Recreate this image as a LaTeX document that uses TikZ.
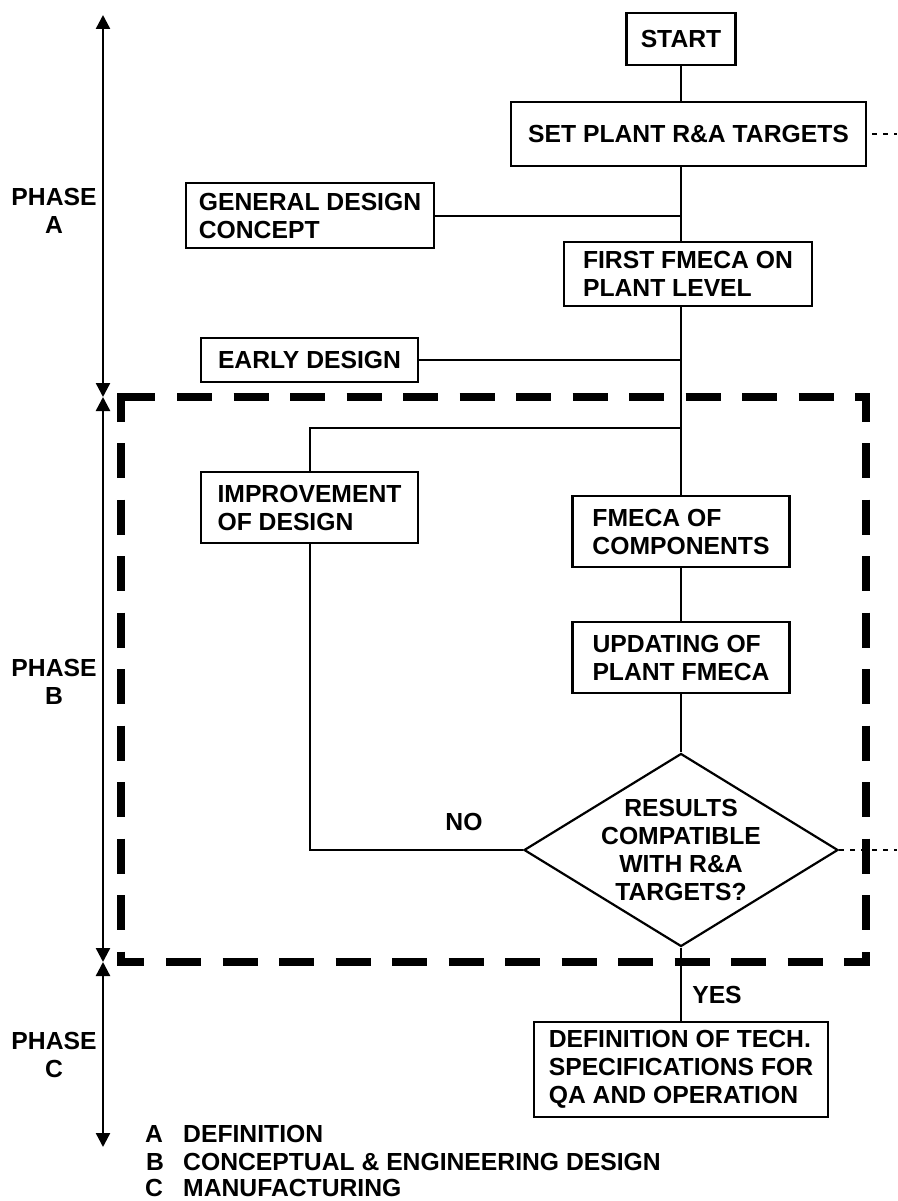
\documentclass[tikz,border=0pt]{standalone}
\usepackage{fontspec}
\setmainfont{Liberation Sans}
\usetikzlibrary{shapes.geometric,arrows.meta}
\begin{document}
\begin{tikzpicture}[x=1pt,y=-1pt,
  every node/.style={font=\fontsize{24.7}{28}\selectfont\bfseries, inner sep=0pt},
  box/.style={draw, line width=2.6pt, align=left},
  link/.style={line width=2pt},
  phasearrow/.style={line width=2.4pt, {Triangle[width=14pt,length=14pt]}-{Triangle[width=14pt,length=14pt]}},
  frame/.style={line width=7.3pt, line join=miter},
  framedash/.style={frame, dash pattern=on 35pt off 21.5pt},
  hint/.style={line width=1.6pt, dash pattern=on 5pt off 6pt},
]
\useasboundingbox (0,0) rectangle (897,1201);
\fill[white] (0,0) rectangle (897,1201);

% thick dashed frame around phase B: solid corners, dashed sides
\draw[frame] (121,422) -- (121,397) -- (155,397);
\draw[frame] (855,397) -- (866,397) -- (866,422);
\draw[frame] (121,951.5) -- (121,962) -- (144,962);
\draw[frame] (844,962) -- (866,962) -- (866,951.5);
\draw[framedash] (177,397) -- (833.5,397);
\draw[framedash] (166,962) -- (822.5,962);
\draw[framedash] (121,443) -- (121,930);
\draw[framedash] (866,443) -- (866,930);

% process boxes
\node[box, minimum width=109pt, minimum height=52pt] (start) at (681,39) {START};
\node[box, minimum width=355pt, minimum height=64pt] (set) at (688.5,134) {SET PLANT R\&A TARGETS};
\node[box, minimum width=248pt, minimum height=65pt] (gdc) at (310,215.5) {GENERAL DESIGN\\CONCEPT};
\node[box, minimum width=248pt, minimum height=64pt] (first) at (688,274) {FIRST FMECA ON\\PLANT LEVEL};
\node[box, minimum width=217pt, minimum height=44pt] (early) at (309.5,360) {EARLY DESIGN};
\node[box, minimum width=217pt, minimum height=71pt] (imp) at (309.5,507.5) {IMPROVEMENT\\OF DESIGN};
\node[box, minimum width=217pt, minimum height=71pt] (comp) at (681,531.5) {FMECA OF\\COMPONENTS};
\node[box, minimum width=217pt, minimum height=71pt] (upd) at (681,657.5) {UPDATING OF\\PLANT FMECA};
\node[diamond, draw, line width=2.2pt, minimum width=314pt, minimum height=193pt] (dia) at (681,850) {};
\node[align=center] (ask) at (dia.center) {RESULTS\\COMPATIBLE\\WITH R\&A\\TARGETS?};
\node[box, minimum width=294pt, minimum height=95pt] (def) at (681,1069.5) {DEFINITION OF TECH.\\SPECIFICATIONS FOR\\QA AND OPERATION};

% connectors
\coordinate (fork) at (681,428);
\draw[link] (start.south) -- (start.south |- set.north);
\draw[link] (start.south |- set.south) -- (start.south |- first.north);
\draw[link] (gdc.east) -- (gdc.east -| start.south);
\draw[link] (start.south |- first.south) -- (comp.north);
\draw[link] (early.east) -- (early.east -| start.south);
\draw[link] (fork) -| (imp.north);
\draw[link] (comp.south) -- (upd.north);
\draw[link] (upd.south) -- (dia.north);
\draw[link] (imp.south) |- (dia.west);
\draw[link] (dia.south) -- (def.north);

\node (no) at (464,821.5) {NO};
\node (yes) at (717,995) {YES};

% continuation hints to the right
\coordinate (setfar) at (897,134);
\coordinate (diafar) at (897,850);
\draw[hint, dash phase=6pt] (set.east) -- (setfar);
\draw[hint] (dia.east) -- (diafar);

% phase scale
\coordinate (ptop) at (103,15);
\coordinate (pab) at (103,397);
\coordinate (pbc) at (103,962);
\coordinate (pend) at (103,1147);
\draw[phasearrow] (pab) -- (ptop);
\draw[phasearrow] (pab) -- (pbc);
\draw[phasearrow] (pbc) -- (pend);
\node[align=center] (phA) at (54,210.5) {PHASE\\A};
\node[align=center] (phB) at (54,681.5) {PHASE\\B};
\node[align=center] (phC) at (54,1054.5) {PHASE\\C};

% legend
\node[anchor=base west] (la) at (145,1142) {A};
\node[anchor=base west] (ta) at (183,1142) {DEFINITION};
\node[anchor=base west] (lb) at (146,1170) {B};
\node[anchor=base west] (tb) at (183,1170) {CONCEPTUAL \& ENGINEERING DESIGN};
\node[anchor=base west] (lc) at (145,1196.5) {C};
\node[anchor=base west] (tc) at (183,1196.5) {MANUFACTURING};
\end{tikzpicture}
\end{document}
